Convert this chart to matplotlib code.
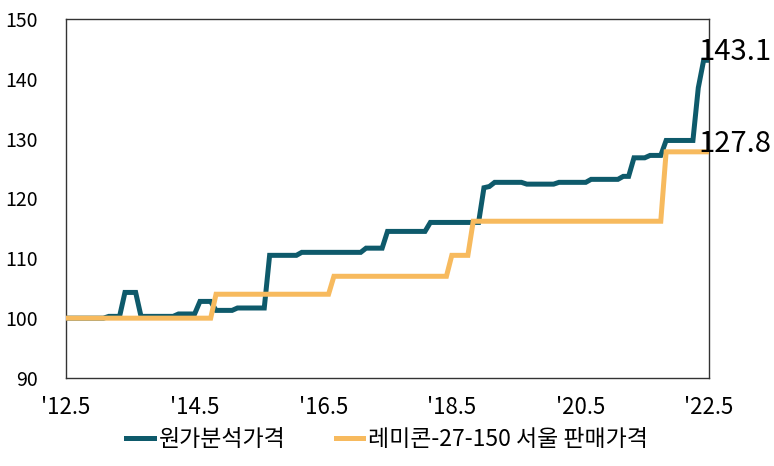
import matplotlib
matplotlib.use("Agg")
import matplotlib.pyplot as plt

plt.rcParams['font.family'] = ['Noto Sans CJK KR', 'DejaVu Sans']

# month index 0 = 2012.5 ... 120 = 2022.5
x_tick_pos = [0, 24, 48, 72, 96, 120]
x_tick_labels = ["'12.5", "'14.5", "'16.5", "'18.5", "'20.5", "'22.5"]
y_ticks = [90, 100, 110, 120, 130, 140, 150]

series_names = ["원가분석가격", "레미콘-27-150 서울 판매가격"]

cost_price = [
    100.0, 100.0, 100.0, 100.0, 100.0, 100.0, 100.0, 100.0, 100.3, 100.3,
    100.3, 104.3, 104.3, 104.3, 100.3, 100.3, 100.3, 100.3, 100.3, 100.3,
    100.3, 100.7, 100.7, 100.7, 100.7, 102.8, 102.8, 102.8, 101.3, 101.3,
    101.3, 101.3, 101.7, 101.7, 101.7, 101.7, 101.7, 101.7, 110.5, 110.5,
    110.5, 110.5, 110.5, 110.5, 111.0, 111.0, 111.0, 111.0, 111.0, 111.0,
    111.0, 111.0, 111.0, 111.0, 111.0, 111.0, 111.7, 111.7, 111.7, 111.7,
    114.5, 114.5, 114.5, 114.5, 114.5, 114.5, 114.5, 114.5, 116.0, 116.0,
    116.0, 116.0, 116.0, 116.0, 116.0, 116.0, 116.0, 116.0, 121.8, 122.0,
    122.7, 122.7, 122.7, 122.7, 122.7, 122.7, 122.4, 122.4, 122.4, 122.4,
    122.4, 122.4, 122.7, 122.7, 122.7, 122.7, 122.7, 122.7, 123.2, 123.2,
    123.2, 123.2, 123.2, 123.2, 123.7, 123.7, 126.8, 126.8, 126.8, 127.2,
    127.2, 127.2, 129.7, 129.7, 129.7, 129.7, 129.7, 129.7, 138.5, 143.1,
    143.1,
]

remicon_price = [
    100.0, 100.0, 100.0, 100.0, 100.0, 100.0, 100.0, 100.0, 100.0, 100.0,
    100.0, 100.0, 100.0, 100.0, 100.0, 100.0, 100.0, 100.0, 100.0, 100.0,
    100.0, 100.0, 100.0, 100.0, 100.0, 100.0, 100.0, 100.0, 104.0, 104.0,
    104.0, 104.0, 104.0, 104.0, 104.0, 104.0, 104.0, 104.0, 104.0, 104.0,
    104.0, 104.0, 104.0, 104.0, 104.0, 104.0, 104.0, 104.0, 104.0, 104.0,
    107.0, 107.0, 107.0, 107.0, 107.0, 107.0, 107.0, 107.0, 107.0, 107.0,
    107.0, 107.0, 107.0, 107.0, 107.0, 107.0, 107.0, 107.0, 107.0, 107.0,
    107.0, 107.0, 110.5, 110.5, 110.5, 110.5, 116.2, 116.2, 116.2, 116.2,
    116.2, 116.2, 116.2, 116.2, 116.2, 116.2, 116.2, 116.2, 116.2, 116.2,
    116.2, 116.2, 116.2, 116.2, 116.2, 116.2, 116.2, 116.2, 116.2, 116.2,
    116.2, 116.2, 116.2, 116.2, 116.2, 116.2, 116.2, 116.2, 116.2, 116.2,
    116.2, 116.2, 127.8, 127.8, 127.8, 127.8, 127.8, 127.8, 127.8, 127.8,
    127.8,
]

months = list(range(len(cost_price)))

teal = "#0E5A6B"
orange = "#F7BA5E"

fig = plt.figure(figsize=(7.74, 4.66), dpi=100)
ax = fig.add_axes([66 / 774, 1 - 378 / 466, (709 - 66) / 774, (378 - 19) / 466])

ax.plot(months, cost_price, color=teal, lw=3.6, solid_joinstyle='miter', label=series_names[0], zorder=2)
ax.plot(months, remicon_price, color=orange, lw=3.6, solid_joinstyle='miter', label=series_names[1], zorder=3)

ax.set_xlim(0, 120)
ax.set_ylim(90, 150)
ax.set_yticks(y_ticks)
ax.set_yticklabels([str(v) for v in y_ticks], fontsize=14)
ax.set_xticks(x_tick_pos)
ax.set_xticklabels(x_tick_labels, fontsize=16)
ax.tick_params(axis='y', length=0, pad=20)
ax.tick_params(axis='x', length=0, pad=13)
for s in ax.spines.values():
    s.set_color("#333333")
    s.set_linewidth(1.0)

ax.text(118.0, cost_price[-1], f"{cost_price[-1]:.1f}", fontsize=21, ha='left', va='baseline', clip_on=False, zorder=5)
ax.text(118.0, remicon_price[-1], f"{remicon_price[-1]:.1f}", fontsize=21, ha='left', va='baseline', clip_on=False, zorder=5)

fig.legend(loc='center', bbox_to_anchor=(0.5, 1 - 440 / 466), ncol=2, frameon=False,
           fontsize=16.5, handlelength=1.2, handletextpad=0.2, columnspacing=2.2)

fig.savefig("out.png", dpi=100)
